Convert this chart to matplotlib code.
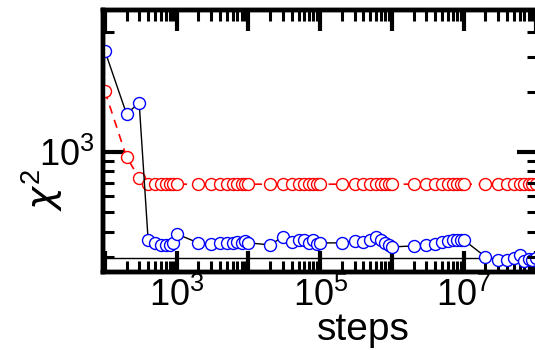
import numpy as np
import matplotlib
matplotlib.use('Agg')
import matplotlib.pyplot as plt
from matplotlib.ticker import FixedLocator, FixedFormatter, NullFormatter

plt.rcParams['font.family'] = ['Liberation Sans', 'DejaVu Sans']
plt.rcParams['mathtext.fontset'] = 'custom'
plt.rcParams['mathtext.rm'] = 'Liberation Sans'
plt.rcParams['mathtext.it'] = 'Liberation Sans:italic'
plt.rcParams['mathtext.default'] = 'regular'

# steps: 1..9 x 10^k, k = 2..7, plus 1e8
steps = [m * 10.0**k for k in range(2, 8) for m in range(1, 10)] + [1e8]

# red series (dashed)
chi_red = [2010, 944, 741] + [690] * 52

# blue series (solid black connector)
chi_blue = [3200, 1550, 1760, 363, 351, 343, 343, 343, 351,
            389, 351, 347, 351, 351, 351, 355, 351, 359,
            351, 343, 376, 355, 363, 363, 351, 363, 347,
            351, 351, 359, 355, 363, 376, 363, 351, 343,
            335, 339, 343, 347, 355, 359, 363, 363, 363,
            363, 299, 288, 288, 295, 305, 285, 292, 288,
            295]

ref_line = 295
x_major = [1e2, 1e3, 1e4, 1e5, 1e6, 1e7, 1e8]
x_labels = ['', r'$10^3$', '', r'$10^5$', '', r'$10^7$', '']

fig = plt.figure(figsize=(5.35, 3.5), dpi=100)
ax = fig.add_axes([103 / 535, 78 / 350, 435 / 535, 262 / 350])

ax.axhline(ref_line, color='k', lw=1.0, zorder=1)
ax.plot(steps, chi_red, '--', color='red', lw=1.2, dashes=(5, 4),
        marker='o', ms=8.6, mfc='white', mec='red', mew=1.0, zorder=3)
ax.plot(steps, chi_blue, '-', color='black', lw=1.0,
        marker='o', ms=8.6, mfc='white', mec='blue', mew=1.0, zorder=3)

ax.set_xscale('log')
ax.set_yscale('log')
ax.set_xlim(94, 1.08e8)
ax.set_ylim(251, 5130)

ax.xaxis.set_major_locator(FixedLocator(x_major))
ax.xaxis.set_major_formatter(FixedFormatter(x_labels))
x_minor = [m * 10.0**k for k in range(1, 9) for m in range(2, 10)]
ax.xaxis.set_minor_locator(FixedLocator(x_minor))
ax.xaxis.set_minor_formatter(NullFormatter())

ax.yaxis.set_major_locator(FixedLocator([1000]))
ax.yaxis.set_major_formatter(FixedFormatter([r'$10^3$']))
ax.yaxis.set_minor_locator(FixedLocator([300, 400, 500, 600, 700, 800, 900, 4000]))
ax.yaxis.set_minor_formatter(NullFormatter())

ax.tick_params(axis='x', which='both', direction='in', top=True, bottom=True)
ax.tick_params(axis='y', which='both', direction='in', left=True, right=False)
ax.tick_params(which='major', length=15, width=3, labelsize=26)
ax.tick_params(which='minor', length=8, width=2.2)
ax.tick_params(axis='x', which='major', pad=4)
ax.tick_params(axis='y', which='major', pad=6)

ax2 = ax.twinx()
ax2.set_yscale('log')
ax2.set_ylim(ax.get_ylim())
ax2.yaxis.set_major_locator(FixedLocator([1000]))
ax2.yaxis.set_major_formatter(NullFormatter())
ax2.yaxis.set_minor_locator(FixedLocator([300, 400, 500, 600, 700, 800, 900,
                                          2000, 3000, 4000]))
ax2.yaxis.set_minor_formatter(NullFormatter())
ax2.tick_params(axis='y', which='both', direction='in', right=True, left=False)
ax2.tick_params(which='major', length=15, width=3)
ax2.tick_params(which='minor', length=8, width=2.2)

for a in (ax, ax2):
    for s in a.spines.values():
        s.set_linewidth(3.2)

fig.text(363 / 535, 10 / 350, 'steps', fontsize=28, ha='center', va='baseline')
fig.text(42 / 535, 1 - 190 / 350, r'$\mathit{\chi}^{2}$', fontsize=28, rotation=90,
         ha='center', va='center', math_fontfamily='dejavusans')

fig.savefig('out.png', dpi=100)
